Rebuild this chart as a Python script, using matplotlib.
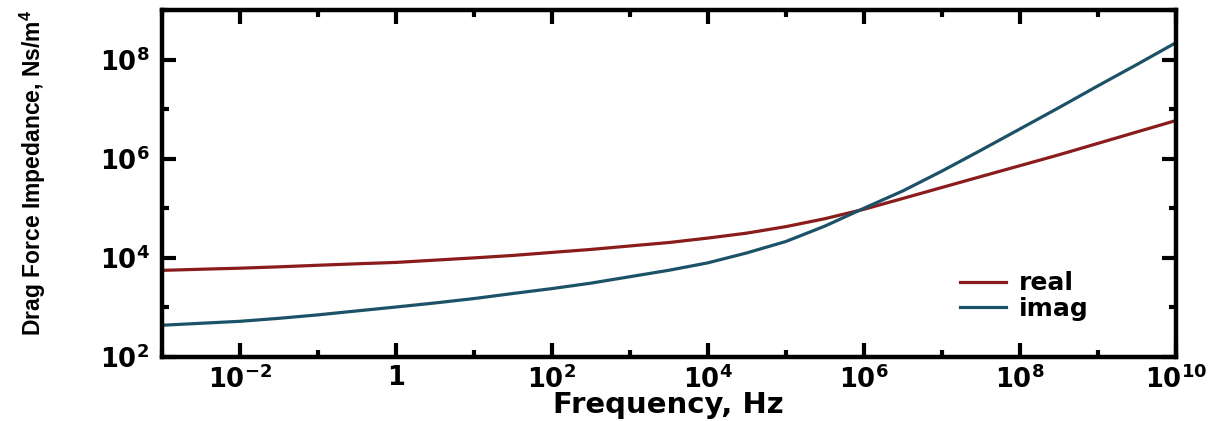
import matplotlib
matplotlib.use('Agg')
import matplotlib.pyplot as plt
from matplotlib.ticker import FixedLocator, FuncFormatter, NullFormatter
import numpy as np

# values, every half decade
freq = [1e-3, 3.16e-3, 1e-2, 3.16e-2, 1e-1, 3.16e-1, 1e0, 3.16e0, 1e1, 3.16e1,
        1e2, 3.16e2, 1e3, 3.16e3, 1e4, 3.16e4, 1e5, 3.16e5, 1e6, 3.16e6,
        1e7, 3.16e7, 1e8, 3.16e8, 1e9, 3.16e9, 1e10]
real = [5.6e3, 5.9e3, 6.2e3, 6.6e3, 7.1e3, 7.6e3, 8.1e3, 9.0e3, 1.0e4, 1.12e4,
        1.29e4, 1.48e4, 1.74e4, 2.04e4, 2.51e4, 3.16e4, 4.27e4, 6.17e4, 9.55e4, 1.58e5,
        2.63e5, 4.37e5, 7.24e5, 1.20e6, 2.04e6, 3.47e6, 5.89e6]
imag = [4.37e2, 4.79e2, 5.25e2, 6.03e2, 7.08e2, 8.51e2, 1.02e3, 1.23e3, 1.51e3, 1.91e3,
        2.40e3, 3.09e3, 4.17e3, 5.62e3, 7.94e3, 1.26e4, 2.14e4, 4.37e4, 1.0e5, 2.24e5,
        5.62e5, 1.48e6, 3.98e6, 1.07e7, 2.95e7, 7.94e7, 2.19e8]

xmajor = [1e-2, 1e0, 1e2, 1e4, 1e6, 1e8, 1e10]
xminor = [1e-3, 1e-1, 1e1, 1e3, 1e5, 1e7, 1e9]
ymajor = [1e2, 1e4, 1e6, 1e8]
yminor = [1e3, 1e5, 1e7, 1e9]

plt.rcParams['font.family'] = ['DejaVu Sans']
plt.rcParams['font.weight'] = 'bold'
plt.rcParams['mathtext.fontset'] = 'custom'
plt.rcParams['mathtext.rm'] = 'DejaVu Sans:bold'
plt.rcParams['mathtext.bf'] = 'DejaVu Sans:bold'
plt.rcParams['mathtext.it'] = 'DejaVu Sans:bold'

fig = plt.figure(figsize=(12.26, 4.21), dpi=100)
ax = fig.add_axes([0.132, 0.152, 0.827, 0.824])

ax.plot(freq, real, color='#8a1c1c', lw=2.3, label='real')
ax.plot(freq, imag, color='#1c5268', lw=2.3, label='imag')

ax.set_xscale('log'); ax.set_yscale('log')
ax.set_xlim(1e-3, 1e10)
ax.set_ylim(1e2, 1e9)

def fmt(v, pos):
    e = int(round(np.log10(v)))
    if e == 0:
        return '1'
    return r'$\mathregular{10^{%d}}$' % e

ax.xaxis.set_major_locator(FixedLocator(xmajor))
ax.xaxis.set_minor_locator(FixedLocator(xminor))
ax.yaxis.set_major_locator(FixedLocator(ymajor))
ax.yaxis.set_minor_locator(FixedLocator(yminor))
ax.xaxis.set_major_formatter(FuncFormatter(fmt))
ax.yaxis.set_major_formatter(FuncFormatter(fmt))
ax.xaxis.set_minor_formatter(NullFormatter())
ax.yaxis.set_minor_formatter(NullFormatter())

ax.tick_params(which='both', direction='in', top=True, right=True, labelsize=18.5)
ax.tick_params(which='major', length=10, width=3, pad=6)
ax.tick_params(which='minor', length=5, width=3)
ax.tick_params(axis='y', pad=9)
for s in ax.spines.values():
    s.set_linewidth(3.2)

ax.set_xlabel('Frequency, Hz', fontsize=21, fontweight='bold', labelpad=-2)
ax.set_ylabel(r'Drag Force Impedance, Ns/m$^\mathregular{4}$', fontsize=16.5,
              fontweight='bold', family=['Liberation Sans'])
ax.yaxis.set_label_coords(-0.112, 0.53)

ax.legend(loc='center left', bbox_to_anchor=(0.787, 0.176), frameon=False,
          prop={'size': 18, 'weight': 'bold'}, handlelength=1.85,
          labelspacing=0.05, handletextpad=0.5, borderpad=0, borderaxespad=0)

fig.savefig('out.png', dpi=100)
